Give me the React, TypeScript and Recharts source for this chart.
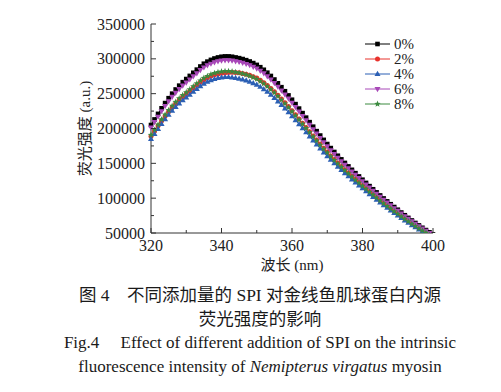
import React from 'react';
import { LineChart, Line, XAxis, YAxis, Legend } from 'recharts';

const wavelengths = [
  320, 321, 322, 323, 324, 325, 326, 327, 328, 329,
  330, 331, 332, 333, 334, 335, 336, 337, 338, 339,
  340, 341, 342, 343, 344, 345, 346, 347, 348, 349,
  350, 351, 352, 353, 354, 355, 356, 357, 358, 359,
  360, 361, 362, 363, 364, 365, 366, 367, 368, 369,
  370, 371, 372, 373, 374, 375, 376, 377, 378, 379,
  380, 381, 382, 383, 384, 385, 386, 387, 388, 389,
  390, 391, 392, 393, 394, 395, 396, 397, 398, 399,
  400,
];

const add0 = [
  205000, 213000, 221000, 229000, 236500, 243500, 250000, 256000, 261500, 266500,
  271000, 275500, 280000, 284500, 289000, 293000, 296000, 298500, 300500, 302000,
  303000, 303500, 303500, 303000, 302000, 301000, 299700, 298100, 296200, 293900,
  291300, 288000, 284300, 280100, 275400, 270300, 264900, 259300, 253500, 247500,
  241300, 235000, 228600, 222100, 215600, 209100, 202600, 196200, 189900, 183700,
  177700, 171900, 166300, 160900, 155700, 150600, 145600, 140700, 135900, 131200,
  126500, 121900, 117300, 112800, 108300, 103900, 99600, 95400, 91300, 87300,
  83400, 79400, 75500, 71700, 68000, 64400, 60900, 57500, 54200, 51000,
  47900,
];

const add2 = [
  189000, 196400, 203800, 211100, 218100, 224500, 230500, 236000, 241100, 245700,
  249900, 254000, 258200, 262300, 266500, 270100, 272900, 275200, 277100, 278400,
  279400, 280000, 280500, 280600, 280300, 279900, 279000, 277800, 276300, 274400,
  272400, 269300, 265800, 261900, 257500, 252700, 247700, 242500, 237000, 231400,
  225600, 219700, 213700, 207700, 201600, 195500, 189400, 183400, 177600, 171800,
  166100, 160700, 155500, 150400, 145600, 140800, 136100, 131600, 127100, 122700,
  118300, 114000, 109700, 105500, 101300, 97100, 93100, 89200, 85400, 81600,
  78000, 74200, 70600, 67000, 63600, 60200, 56900, 53800, 50700, 47700,
  44800,
];

const add4 = [
  184900, 192100, 199300, 206600, 213300, 219600, 225500, 230900, 235900, 240400,
  244400, 248500, 252600, 256600, 260700, 264300, 267000, 269200, 271100, 272400,
  273300, 273800, 273800, 273300, 272400, 271500, 270300, 268900, 267200, 265100,
  262800, 259800, 256400, 252700, 248400, 243800, 238900, 233900, 228700, 223200,
  217700, 212000, 206200, 200300, 194500, 188600, 182700, 177000, 171300, 165700,
  160300, 155100, 150000, 145100, 140400, 135800, 131300, 126900, 122600, 118300,
  114100, 110000, 105800, 101700, 97700, 93700, 89800, 86100, 82400, 78700,
  75200, 71600, 68100, 64700, 61300, 58100, 54900, 51900, 48900, 46000,
  43200,
];

const add6 = [
  201300, 209200, 217000, 224900, 232200, 239100, 245500, 251400, 256800, 261700,
  266100, 270500, 275000, 279400, 283800, 287700, 290700, 293100, 295100, 296600,
  297500, 298000, 298000, 297500, 296600, 295600, 294300, 292700, 290900, 288600,
  286100, 282800, 279200, 275100, 270400, 265400, 260100, 254600, 248900, 243000,
  237000, 230800, 224500, 218100, 211700, 205300, 199000, 192700, 186500, 180400,
  174500, 168800, 163300, 158000, 152900, 147900, 143000, 138200, 133500, 128800,
  124200, 119700, 115200, 110800, 106300, 102000, 97800, 93700, 89700, 85700,
  81900, 78000, 74100, 70400, 66800, 63200, 59800, 56500, 53200, 50100,
  47000,
];

const add8 = [
  190700, 198100, 205500, 213000, 219900, 226500, 232500, 238100, 243200, 247800,
  252000, 256200, 260400, 264600, 268800, 272500, 275300, 277600, 279500, 280900,
  281800, 282300, 282300, 281800, 280900, 279900, 278700, 277200, 275500, 273300,
  270900, 267800, 264400, 260500, 256100, 251400, 246400, 241100, 235800, 230200,
  224400, 218600, 212600, 206600, 200500, 194500, 188400, 182500, 176600, 170800,
  165300, 159900, 154700, 149600, 144800, 140100, 135400, 130900, 126400, 122000,
  117600, 113400, 109100, 104900, 100700, 96600, 92600, 88700, 84900, 81200,
  77600, 73800, 70200, 66700, 63200, 59900, 56600, 53500, 50400, 47400,
  44500,
];

const seriesNames = ['0%', '2%', '4%', '6%', '8%'];
const xTicks = [320, 330, 340, 350, 360, 370, 380, 390, 400];
const yTicks = [50000, 75000, 100000, 125000, 150000, 175000, 200000, 225000, 250000, 275000, 300000, 325000, 350000];

const seriesValues = [add0, add2, add4, add6, add8];
const seriesStyle = [
  { color: '#000000', shape: 'square' },
  { color: '#e8322c', shape: 'circle' },
  { color: '#2b5fb4', shape: 'up' },
  { color: '#a848b8', shape: 'down' },
  { color: '#3a8a3e', shape: 'star' },
];

const data = wavelengths.map((w, i) => {
  const row: Record<string, number> = { w };
  seriesValues.forEach((arr, k) => {
    row['s' + k] = arr[i];
  });
  return row;
});

const SERIF = '"Liberation Serif", "Times New Roman", "Noto Sans CJK SC", serif';
const AXIS = '#333333';

function marker(shape: string, color: string, cx: number, cy: number, key?: string | number) {
  switch (shape) {
    case 'square':
      return <rect key={key} x={cx - 2.3} y={cy - 2.3} width={4.6} height={4.6} fill={color} />;
    case 'circle':
      return <circle key={key} cx={cx} cy={cy} r={2.5} fill={color} />;
    case 'up':
      return <path key={key} d={`M${cx},${cy - 3.2}L${cx + 3},${cy + 2}L${cx - 3},${cy + 2}Z`} fill={color} />;
    case 'down':
      return <path key={key} d={`M${cx},${cy + 3.2}L${cx + 3},${cy - 2}L${cx - 3},${cy - 2}Z`} fill={color} />;
    default: {
      const pts: string[] = [];
      for (let j = 0; j < 10; j++) {
        const r = j % 2 === 0 ? 3.4 : 1.4;
        const a = -Math.PI / 2 + (j * Math.PI) / 5;
        pts.push(`${cx + r * Math.cos(a)},${cy + r * Math.sin(a)}`);
      }
      return <polygon key={key} points={pts.join(' ')} fill={color} />;
    }
  }
}

const makeDot = (shape: string, color: string) => (p: any) => {
  if (p == null || p.cx == null || p.cy == null) return <g key={p?.index} />;
  return marker(shape, color, p.cx, p.cy, `d${p.index}`);
};

const YTick = (props: any) => {
  const { x, y, payload } = props;
  const major = payload.value % 50000 === 0;
  return (
    <g>
      <line x1={x} y1={y} x2={x + (major ? 5 : 3)} y2={y} stroke={AXIS} strokeWidth={1} />
      {major && (
        <text x={x - 6} y={y} dy="0.35em" textAnchor="end" fontFamily={SERIF} fontSize={16} fill="#222">
          {payload.value}
        </text>
      )}
    </g>
  );
};

const XTick = (props: any) => {
  const { x, y, payload } = props;
  const major = payload.value % 20 === 0;
  return (
    <g>
      <line x1={x} y1={y} x2={x} y2={y - (major ? 5 : 3)} stroke={AXIS} strokeWidth={1} />
      {major && (
        <text x={x} y={y + 17.5} textAnchor="middle" fontFamily={SERIF} fontSize={16} fill="#222">
          {payload.value}
        </text>
      )}
    </g>
  );
};

const renderLegend = () => (
  <svg width={60} height={78} style={{ display: 'block', overflow: 'visible' }}>
    {seriesNames.map((name, k) => (
      <g key={name} transform={`translate(0, ${8 + k * 15})`}>
        <line x1={0} y1={0} x2={25} y2={0} stroke={seriesStyle[k].color} strokeWidth={1} />
        {marker(seriesStyle[k].shape, seriesStyle[k].color, 12.5, 0)}
        <text x={29} y={0} dy="0.35em" fontFamily={SERIF} fontSize={15} fill="#222">
          {name}
        </text>
      </g>
    ))}
  </svg>
);

const captionStyle: React.CSSProperties = {
  position: 'absolute',
  left: 0,
  width: 520,
  textAlign: 'center',
  fontFamily: SERIF,
  color: '#1a1a1a',
  whiteSpace: 'pre',
  height: 24,
  lineHeight: '24px',
};

export default function App() {
  return (
    <div style={{ position: 'absolute', left: 0, top: 0, width: 501, height: 392, background: '#fff', overflow: 'hidden' }}>
      <LineChart width={501} height={275} data={data} margin={{ top: 24, right: 68, bottom: 0, left: 0 }}>
        <XAxis
          dataKey="w"
          type="number"
          domain={[320, 400]}
          ticks={xTicks}
          interval={0}
          height={42}
          tickSize={0}
          tickMargin={0}
          tickLine={false}
          tick={<XTick />}
          axisLine={{ stroke: AXIS, strokeWidth: 1 }}
          label={{
            content: (p: any) => (
              <text
                x={p.viewBox.x + p.viewBox.width / 2}
                y={p.viewBox.y + 37}
                textAnchor="middle"
                fontFamily={SERIF}
                fontSize={15}
                fill="#222"
              >
                波长 (nm)
              </text>
            ),
          }}
        />
        <YAxis
          type="number"
          domain={[50000, 350000]}
          ticks={yTicks}
          interval={0}
          allowDataOverflow
          width={151}
          tickSize={0}
          tickMargin={0}
          tickLine={false}
          tick={<YTick />}
          axisLine={{ stroke: AXIS, strokeWidth: 1 }}
          label={{
            content: (p: any) => (
              <text
                transform={`translate(85, ${p.viewBox.y + p.viewBox.height / 2}) rotate(-90)`}
                textAnchor="middle"
                dominantBaseline="central"
                fontFamily={SERIF}
                fontSize={15}
                fill="#222"
              >
                荧光强度 (a.u.)
              </text>
            ),
          }}
        />
        <Legend
          layout="vertical"
          align="center"
          verticalAlign="middle"
          content={renderLegend}
          wrapperStyle={{ left: 365, top: 36, width: 60, height: 78 }}
        />
        {seriesNames.map((name, k) => (
          <Line
            key={name}
            name={name}
            dataKey={'s' + k}
            type="linear"
            stroke={seriesStyle[k].color}
            strokeWidth={1}
            dot={makeDot(seriesStyle[k].shape, seriesStyle[k].color)}
            activeDot={false}
            isAnimationActive={false}
          />
        ))}
      </LineChart>
      <div style={{ ...captionStyle, top: 283, fontSize: 17.5 }}>{'图 4\u3000不同添加量的 SPI 对金线鱼肌球蛋白内源'}</div>
      <div style={{ ...captionStyle, top: 307, fontSize: 17.5 }}>荧光强度的影响</div>
      <div style={{ ...captionStyle, top: 331, fontSize: 17 }}>{'Fig.4\u2003 Effect of different addition of SPI on the intrinsic'}</div>
      <div style={{ ...captionStyle, top: 355, fontSize: 17 }}>
        fluorescence intensity of <i>Nemipterus virgatus</i> myosin
      </div>
    </div>
  );
}
